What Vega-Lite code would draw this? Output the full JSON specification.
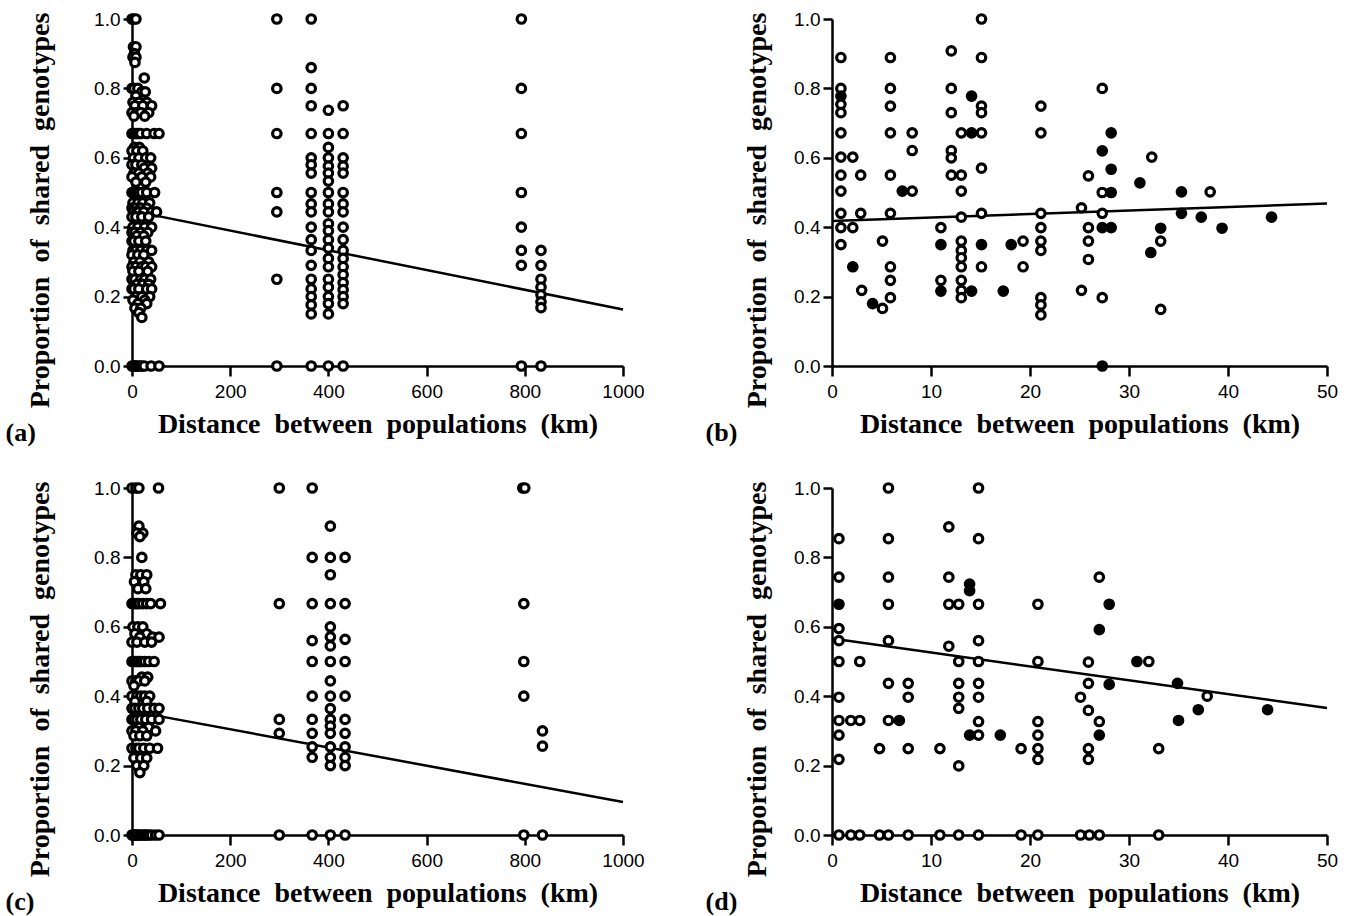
{
"$schema":"https://vega.github.io/schema/vega-lite/v6.json",
"background":"white",
"padding":{"left":5,"top":8,"right":5,"bottom":2},
"config":{"view":{"stroke":null},
"axis":{"grid":false,"domainColor":"black","domainWidth":2.5,"tickColor":"black","tickWidth":2.5,"labelFont":"Liberation Sans","labelFontSize":19,"labelColor":"black","titleFont":"Liberation Serif","titleFontSize":28,"titleFontWeight":"bold","titleColor":"black","titleLimit":800,"labelOverlap":false},
"axisX":{"tickSize":10,"labelPadding":6,"titlePadding":9,"labelFlush":false},
"axisY":{"tickSize":9,"labelPadding":3},
"title":{"font":"Liberation Serif","fontSize":26,"fontWeight":"bold","color":"black"}},
"datasets":{
"a":[{"km":0,"p":1},{"km":3,"p":1},{"km":8,"p":1},{"km":3,"p":0.92},{"km":8,"p":0.92},{"km":5,"p":0.9},{"km":2,"p":0.89},{"km":8,"p":0.89},{"km":6,"p":0.875},{"km":25,"p":0.83},{"km":0,"p":0.8},{"km":4,"p":0.8},{"km":12,"p":0.8},{"km":20,"p":0.79},{"km":27,"p":0.79},{"km":8,"p":0.778},{"km":2,"p":0.76},{"km":14,"p":0.76},{"km":30,"p":0.76},{"km":6,"p":0.75},{"km":22,"p":0.75},{"km":40,"p":0.75},{"km":0,"p":0.73},{"km":10,"p":0.73},{"km":18,"p":0.73},{"km":34,"p":0.73},{"km":4,"p":0.72},{"km":26,"p":0.72},{"km":0,"p":0.67},{"km":3,"p":0.67},{"km":6,"p":0.67},{"km":10,"p":0.67},{"km":14,"p":0.67},{"km":18,"p":0.67},{"km":30,"p":0.67},{"km":45,"p":0.67},{"km":55,"p":0.67},{"km":5,"p":0.63},{"km":15,"p":0.63},{"km":0,"p":0.62},{"km":10,"p":0.62},{"km":22,"p":0.62},{"km":3,"p":0.6},{"km":14,"p":0.6},{"km":28,"p":0.6},{"km":38,"p":0.6},{"km":0,"p":0.58},{"km":8,"p":0.58},{"km":20,"p":0.58},{"km":25,"p":0.57},{"km":40,"p":0.57},{"km":4,"p":0.556},{"km":14,"p":0.556},{"km":32,"p":0.556},{"km":0,"p":0.545},{"km":20,"p":0.545},{"km":38,"p":0.545},{"km":8,"p":0.53},{"km":28,"p":0.53},{"km":0,"p":0.5},{"km":3,"p":0.5},{"km":6,"p":0.5},{"km":10,"p":0.5},{"km":14,"p":0.5},{"km":20,"p":0.5},{"km":30,"p":0.5},{"km":46,"p":0.5},{"km":2,"p":0.47},{"km":12,"p":0.47},{"km":22,"p":0.47},{"km":36,"p":0.47},{"km":0,"p":0.455},{"km":6,"p":0.455},{"km":18,"p":0.455},{"km":30,"p":0.455},{"km":3,"p":0.444},{"km":10,"p":0.444},{"km":14,"p":0.444},{"km":24,"p":0.444},{"km":40,"p":0.444},{"km":50,"p":0.444},{"km":0,"p":0.43},{"km":8,"p":0.43},{"km":20,"p":0.43},{"km":34,"p":0.43},{"km":2,"p":0.4},{"km":12,"p":0.4},{"km":26,"p":0.4},{"km":40,"p":0.4},{"km":0,"p":0.385},{"km":6,"p":0.385},{"km":18,"p":0.385},{"km":32,"p":0.385},{"km":10,"p":0.375},{"km":24,"p":0.375},{"km":0,"p":0.36},{"km":4,"p":0.36},{"km":14,"p":0.36},{"km":28,"p":0.36},{"km":2,"p":0.333},{"km":8,"p":0.333},{"km":18,"p":0.333},{"km":30,"p":0.333},{"km":40,"p":0.333},{"km":0,"p":0.32},{"km":12,"p":0.32},{"km":24,"p":0.32},{"km":4,"p":0.3},{"km":16,"p":0.3},{"km":34,"p":0.3},{"km":0,"p":0.286},{"km":8,"p":0.286},{"km":20,"p":0.286},{"km":28,"p":0.286},{"km":40,"p":0.286},{"km":2,"p":0.273},{"km":14,"p":0.273},{"km":32,"p":0.273},{"km":0,"p":0.25},{"km":6,"p":0.25},{"km":18,"p":0.25},{"km":26,"p":0.25},{"km":38,"p":0.25},{"km":10,"p":0.235},{"km":22,"p":0.235},{"km":34,"p":0.235},{"km":0,"p":0.222},{"km":4,"p":0.222},{"km":14,"p":0.222},{"km":30,"p":0.222},{"km":40,"p":0.222},{"km":8,"p":0.2},{"km":20,"p":0.2},{"km":36,"p":0.2},{"km":2,"p":0.19},{"km":26,"p":0.19},{"km":12,"p":0.18},{"km":30,"p":0.18},{"km":6,"p":0.167},{"km":18,"p":0.167},{"km":14,"p":0.154},{"km":20,"p":0.14},{"km":0,"p":0},{"km":2,"p":0},{"km":4,"p":0},{"km":6,"p":0},{"km":8,"p":0},{"km":12,"p":0},{"km":16,"p":0},{"km":20,"p":0},{"km":25,"p":0},{"km":39,"p":0},{"km":55,"p":0},
{"km":295,"p":1},{"km":295,"p":0.8},{"km":295,"p":0.67},{"km":295,"p":0.5},{"km":295,"p":0.444},{"km":295,"p":0.25},{"km":295,"p":0},
{"km":365,"p":1},{"km":365,"p":0.86},{"km":365,"p":0.8},{"km":365,"p":0.75},{"km":365,"p":0.67},{"km":365,"p":0.6},{"km":365,"p":0.58},{"km":365,"p":0.556},{"km":365,"p":0.5},{"km":365,"p":0.467},{"km":365,"p":0.444},{"km":365,"p":0.4},{"km":365,"p":0.364},{"km":365,"p":0.333},{"km":365,"p":0.29},{"km":365,"p":0.25},{"km":365,"p":0.222},{"km":365,"p":0.2},{"km":365,"p":0.176},{"km":365,"p":0.15},{"km":365,"p":0},
{"km":400,"p":0.737},{"km":400,"p":0.67},{"km":400,"p":0.63},{"km":400,"p":0.6},{"km":400,"p":0.576},{"km":400,"p":0.556},{"km":400,"p":0.533},{"km":400,"p":0.5},{"km":400,"p":0.467},{"km":400,"p":0.444},{"km":400,"p":0.41},{"km":400,"p":0.39},{"km":400,"p":0.364},{"km":400,"p":0.34},{"km":400,"p":0.31},{"km":400,"p":0.286},{"km":400,"p":0.25},{"km":400,"p":0.227},{"km":400,"p":0.2},{"km":400,"p":0.18},{"km":400,"p":0.15},{"km":400,"p":0},
{"km":430,"p":0.75},{"km":430,"p":0.67},{"km":430,"p":0.6},{"km":430,"p":0.576},{"km":430,"p":0.556},{"km":430,"p":0.5},{"km":430,"p":0.467},{"km":430,"p":0.444},{"km":430,"p":0.4},{"km":430,"p":0.364},{"km":430,"p":0.333},{"km":430,"p":0.31},{"km":430,"p":0.286},{"km":430,"p":0.263},{"km":430,"p":0.24},{"km":430,"p":0.22},{"km":430,"p":0.2},{"km":430,"p":0.18},{"km":430,"p":0},
{"km":793,"p":1},{"km":793,"p":0.8},{"km":793,"p":0.67},{"km":793,"p":0.5},{"km":793,"p":0.4},{"km":793,"p":0.333},{"km":793,"p":0.29},{"km":793,"p":0},
{"km":833,"p":0.333},{"km":833,"p":0.29},{"km":833,"p":0.25},{"km":833,"p":0.227},{"km":833,"p":0.205},{"km":833,"p":0.185},{"km":833,"p":0.168},{"km":833,"p":0}],
"c":[{"km":0,"p":1},{"km":8,"p":1},{"km":14,"p":1},{"km":54,"p":1},{"km":14,"p":0.89},{"km":10,"p":0.87},{"km":22,"p":0.87},{"km":16,"p":0.86},{"km":20,"p":0.8},{"km":8,"p":0.75},{"km":18,"p":0.75},{"km":30,"p":0.75},{"km":5,"p":0.73},{"km":24,"p":0.73},{"km":12,"p":0.71},{"km":28,"p":0.71},{"km":0,"p":0.667},{"km":5,"p":0.667},{"km":10,"p":0.667},{"km":15,"p":0.667},{"km":22,"p":0.667},{"km":30,"p":0.667},{"km":38,"p":0.667},{"km":58,"p":0.667},{"km":2,"p":0.6},{"km":12,"p":0.6},{"km":22,"p":0.6},{"km":6,"p":0.58},{"km":30,"p":0.58},{"km":16,"p":0.57},{"km":42,"p":0.57},{"km":55,"p":0.57},{"km":0,"p":0.556},{"km":10,"p":0.556},{"km":26,"p":0.556},{"km":40,"p":0.556},{"km":0,"p":0.5},{"km":4,"p":0.5},{"km":8,"p":0.5},{"km":12,"p":0.5},{"km":16,"p":0.5},{"km":20,"p":0.5},{"km":26,"p":0.5},{"km":34,"p":0.5},{"km":45,"p":0.5},{"km":20,"p":0.455},{"km":32,"p":0.455},{"km":0,"p":0.444},{"km":8,"p":0.444},{"km":14,"p":0.444},{"km":26,"p":0.444},{"km":4,"p":0.43},{"km":0,"p":0.4},{"km":10,"p":0.4},{"km":18,"p":0.4},{"km":26,"p":0.4},{"km":36,"p":0.4},{"km":6,"p":0.385},{"km":30,"p":0.385},{"km":0,"p":0.365},{"km":6,"p":0.365},{"km":14,"p":0.365},{"km":22,"p":0.365},{"km":32,"p":0.365},{"km":45,"p":0.365},{"km":55,"p":0.365},{"km":0,"p":0.333},{"km":4,"p":0.333},{"km":10,"p":0.333},{"km":18,"p":0.333},{"km":28,"p":0.333},{"km":40,"p":0.333},{"km":55,"p":0.333},{"km":14,"p":0.31},{"km":34,"p":0.31},{"km":0,"p":0.3},{"km":8,"p":0.3},{"km":22,"p":0.3},{"km":48,"p":0.3},{"km":4,"p":0.286},{"km":16,"p":0.286},{"km":30,"p":0.286},{"km":0,"p":0.25},{"km":8,"p":0.25},{"km":14,"p":0.25},{"km":24,"p":0.25},{"km":36,"p":0.25},{"km":52,"p":0.25},{"km":4,"p":0.222},{"km":18,"p":0.222},{"km":30,"p":0.222},{"km":10,"p":0.2},{"km":24,"p":0.2},{"km":16,"p":0.18},{"km":0,"p":0},{"km":2,"p":0},{"km":4,"p":0},{"km":6,"p":0},{"km":8,"p":0},{"km":10,"p":0},{"km":14,"p":0},{"km":18,"p":0},{"km":22,"p":0},{"km":26,"p":0},{"km":30,"p":0},{"km":34,"p":0},{"km":40,"p":0},{"km":48,"p":0},{"km":55,"p":0},
{"km":300,"p":1},{"km":300,"p":0.667},{"km":300,"p":0.333},{"km":300,"p":0.293},{"km":300,"p":0},
{"km":367,"p":1},{"km":367,"p":0.8},{"km":367,"p":0.667},{"km":367,"p":0.56},{"km":367,"p":0.5},{"km":367,"p":0.4},{"km":367,"p":0.333},{"km":367,"p":0.293},{"km":367,"p":0.254},{"km":367,"p":0.224},{"km":367,"p":0},
{"km":404,"p":0.89},{"km":404,"p":0.8},{"km":404,"p":0.75},{"km":404,"p":0.667},{"km":404,"p":0.6},{"km":404,"p":0.571},{"km":404,"p":0.545},{"km":404,"p":0.5},{"km":404,"p":0.444},{"km":404,"p":0.4},{"km":404,"p":0.364},{"km":404,"p":0.333},{"km":404,"p":0.314},{"km":404,"p":0.293},{"km":404,"p":0.254},{"km":404,"p":0.224},{"km":404,"p":0.2},{"km":404,"p":0},
{"km":434,"p":0.8},{"km":434,"p":0.667},{"km":434,"p":0.564},{"km":434,"p":0.5},{"km":434,"p":0.4},{"km":434,"p":0.333},{"km":434,"p":0.293},{"km":434,"p":0.254},{"km":434,"p":0.224},{"km":434,"p":0.2},{"km":434,"p":0},
{"km":796,"p":1},{"km":800,"p":1},{"km":798,"p":0.667},{"km":798,"p":0.5},{"km":798,"p":0.4},{"km":798,"p":0},
{"km":836,"p":0.3},{"km":836,"p":0.256},{"km":836,"p":0}],
"b":[{"km":0.9,"p":0.889,"k":"o"},{"km":0.9,"p":0.8,"k":"o"},{"km":0.9,"p":0.778,"k":"f"},{"km":0.9,"p":0.754,"k":"o"},{"km":0.9,"p":0.73,"k":"o"},{"km":0.9,"p":0.672,"k":"o"},{"km":0.9,"p":0.602,"k":"o"},{"km":2.1,"p":0.602,"k":"o"},{"km":0.9,"p":0.55,"k":"o"},{"km":2.9,"p":0.55,"k":"o"},{"km":0.9,"p":0.504,"k":"o"},{"km":0.9,"p":0.44,"k":"o"},{"km":2.9,"p":0.44,"k":"o"},{"km":0.9,"p":0.399,"k":"o"},{"km":2.1,"p":0.399,"k":"o"},{"km":0.9,"p":0.35,"k":"o"},{"km":2.1,"p":0.286,"k":"f"},{"km":3.0,"p":0.218,"k":"o"},{"km":4.1,"p":0.18,"k":"f"},{"km":5.1,"p":0.166,"k":"o"},{"km":5.1,"p":0.36,"k":"o"},{"km":5.9,"p":0.889,"k":"o"},{"km":5.9,"p":0.8,"k":"o"},{"km":5.9,"p":0.749,"k":"o"},{"km":5.9,"p":0.672,"k":"o"},{"km":5.9,"p":0.55,"k":"o"},{"km":5.9,"p":0.44,"k":"o"},{"km":5.9,"p":0.286,"k":"o"},{"km":5.9,"p":0.247,"k":"o"},{"km":5.9,"p":0.197,"k":"o"},{"km":7.1,"p":0.504,"k":"f"},{"km":8.1,"p":0.504,"k":"o"},{"km":8.1,"p":0.672,"k":"o"},{"km":8.1,"p":0.621,"k":"o"},{"km":11.0,"p":0.399,"k":"o"},{"km":11.0,"p":0.35,"k":"f"},{"km":11.0,"p":0.247,"k":"o"},{"km":11.0,"p":0.216,"k":"f"},{"km":12.05,"p":0.908,"k":"o"},{"km":12.05,"p":0.8,"k":"o"},{"km":12.05,"p":0.73,"k":"o"},{"km":12.05,"p":0.621,"k":"o"},{"km":12.05,"p":0.6,"k":"o"},{"km":12.05,"p":0.55,"k":"o"},{"km":13.06,"p":0.55,"k":"o"},{"km":13.06,"p":0.672,"k":"o"},{"km":13.06,"p":0.504,"k":"o"},{"km":13.06,"p":0.429,"k":"o"},{"km":13.06,"p":0.36,"k":"o"},{"km":13.06,"p":0.333,"k":"o"},{"km":13.06,"p":0.312,"k":"o"},{"km":13.06,"p":0.286,"k":"o"},{"km":13.06,"p":0.247,"k":"o"},{"km":13.06,"p":0.218,"k":"o"},{"km":13.06,"p":0.197,"k":"o"},{"km":14.1,"p":0.778,"k":"f"},{"km":14.1,"p":0.672,"k":"f"},{"km":14.1,"p":0.216,"k":"f"},{"km":15.1,"p":1.0,"k":"o"},{"km":15.1,"p":0.889,"k":"o"},{"km":15.1,"p":0.749,"k":"o"},{"km":15.1,"p":0.73,"k":"o"},{"km":15.1,"p":0.672,"k":"o"},{"km":15.1,"p":0.57,"k":"o"},{"km":15.1,"p":0.44,"k":"o"},{"km":15.1,"p":0.35,"k":"f"},{"km":15.1,"p":0.286,"k":"o"},{"km":17.3,"p":0.216,"k":"f"},{"km":18.1,"p":0.35,"k":"f"},{"km":19.3,"p":0.36,"k":"o"},{"km":19.3,"p":0.286,"k":"o"},{"km":21.1,"p":0.749,"k":"o"},{"km":21.1,"p":0.672,"k":"o"},{"km":21.1,"p":0.44,"k":"o"},{"km":21.1,"p":0.399,"k":"o"},{"km":21.1,"p":0.36,"k":"o"},{"km":21.1,"p":0.333,"k":"o"},{"km":21.1,"p":0.197,"k":"o"},{"km":21.1,"p":0.176,"k":"o"},{"km":21.1,"p":0.147,"k":"o"},{"km":25.2,"p":0.456,"k":"o"},{"km":25.2,"p":0.218,"k":"o"},{"km":25.9,"p":0.548,"k":"o"},{"km":25.9,"p":0.399,"k":"o"},{"km":25.9,"p":0.36,"k":"o"},{"km":25.9,"p":0.307,"k":"o"},{"km":27.3,"p":0.8,"k":"o"},{"km":28.2,"p":0.672,"k":"f"},{"km":27.3,"p":0.62,"k":"f"},{"km":28.2,"p":0.567,"k":"f"},{"km":27.3,"p":0.5,"k":"o"},{"km":28.2,"p":0.5,"k":"f"},{"km":27.3,"p":0.44,"k":"o"},{"km":27.3,"p":0.399,"k":"f"},{"km":28.2,"p":0.399,"k":"f"},{"km":27.3,"p":0.197,"k":"o"},{"km":27.3,"p":0.0,"k":"f"},{"km":31.1,"p":0.528,"k":"f"},{"km":32.3,"p":0.602,"k":"o"},{"km":33.2,"p":0.397,"k":"f"},{"km":32.2,"p":0.327,"k":"f"},{"km":33.2,"p":0.36,"k":"o"},{"km":33.2,"p":0.163,"k":"o"},{"km":35.3,"p":0.502,"k":"f"},{"km":35.3,"p":0.44,"k":"f"},{"km":37.3,"p":0.429,"k":"f"},{"km":38.2,"p":0.502,"k":"o"},{"km":39.4,"p":0.397,"k":"f"},{"km":44.4,"p":0.429,"k":"f"}],
"d":[{"km":0.7,"p":0.854,"k":"o"},{"km":0.7,"p":0.743,"k":"o"},{"km":0.7,"p":0.665,"k":"f"},{"km":0.7,"p":0.595,"k":"o"},{"km":0.7,"p":0.56,"k":"o"},{"km":0.7,"p":0.5,"k":"o"},{"km":0.7,"p":0.397,"k":"o"},{"km":0.7,"p":0.33,"k":"o"},{"km":0.7,"p":0.288,"k":"o"},{"km":0.7,"p":0.218,"k":"o"},{"km":0.7,"p":0,"k":"o"},{"km":1.9,"p":0.33,"k":"o"},{"km":1.9,"p":0,"k":"o"},{"km":2.8,"p":0.5,"k":"o"},{"km":2.8,"p":0.33,"k":"o"},{"km":2.8,"p":0,"k":"o"},{"km":4.8,"p":0.249,"k":"o"},{"km":4.8,"p":0,"k":"o"},{"km":5.7,"p":1.0,"k":"o"},{"km":5.7,"p":0.854,"k":"o"},{"km":5.7,"p":0.743,"k":"o"},{"km":5.7,"p":0.665,"k":"o"},{"km":5.7,"p":0.56,"k":"o"},{"km":5.7,"p":0.437,"k":"o"},{"km":5.7,"p":0.33,"k":"o"},{"km":5.7,"p":0,"k":"o"},{"km":6.8,"p":0.33,"k":"f"},{"km":7.7,"p":0.437,"k":"o"},{"km":7.7,"p":0.397,"k":"o"},{"km":7.7,"p":0.249,"k":"o"},{"km":7.7,"p":0,"k":"o"},{"km":10.9,"p":0.249,"k":"o"},{"km":10.9,"p":0,"k":"o"},{"km":11.8,"p":0.888,"k":"o"},{"km":11.8,"p":0.743,"k":"o"},{"km":11.8,"p":0.665,"k":"o"},{"km":11.8,"p":0.544,"k":"o"},{"km":12.8,"p":0.665,"k":"o"},{"km":12.8,"p":0.5,"k":"o"},{"km":12.8,"p":0.437,"k":"o"},{"km":12.8,"p":0.397,"k":"o"},{"km":12.8,"p":0.365,"k":"o"},{"km":12.8,"p":0.199,"k":"o"},{"km":12.8,"p":0,"k":"o"},{"km":13.9,"p":0.723,"k":"f"},{"km":13.9,"p":0.704,"k":"f"},{"km":13.9,"p":0.288,"k":"f"},{"km":14.8,"p":1.0,"k":"o"},{"km":14.8,"p":0.854,"k":"o"},{"km":14.8,"p":0.665,"k":"o"},{"km":14.8,"p":0.56,"k":"o"},{"km":14.8,"p":0.5,"k":"o"},{"km":14.8,"p":0.437,"k":"o"},{"km":14.8,"p":0.397,"k":"o"},{"km":14.8,"p":0.327,"k":"o"},{"km":14.8,"p":0.288,"k":"o"},{"km":14.8,"p":0,"k":"o"},{"km":17,"p":0.288,"k":"f"},{"km":19.1,"p":0.249,"k":"o"},{"km":19.1,"p":0,"k":"o"},{"km":20.8,"p":0.665,"k":"o"},{"km":20.8,"p":0.5,"k":"o"},{"km":20.8,"p":0.327,"k":"o"},{"km":20.8,"p":0.288,"k":"o"},{"km":20.8,"p":0.249,"k":"o"},{"km":20.8,"p":0.218,"k":"o"},{"km":20.8,"p":0,"k":"o"},{"km":25.1,"p":0.397,"k":"o"},{"km":25.1,"p":0,"k":"o"},{"km":25.9,"p":0.498,"k":"o"},{"km":25.9,"p":0.437,"k":"o"},{"km":25.9,"p":0.359,"k":"o"},{"km":25.9,"p":0.249,"k":"o"},{"km":25.9,"p":0.218,"k":"o"},{"km":26,"p":0,"k":"o"},{"km":27,"p":0.743,"k":"o"},{"km":28,"p":0.665,"k":"f"},{"km":27,"p":0.592,"k":"f"},{"km":28,"p":0.434,"k":"f"},{"km":27,"p":0.327,"k":"o"},{"km":27,"p":0.288,"k":"f"},{"km":27,"p":0,"k":"o"},{"km":30.8,"p":0.5,"k":"f"},{"km":32,"p":0.5,"k":"o"},{"km":33,"p":0.249,"k":"o"},{"km":33,"p":0,"k":"o"},{"km":34.9,"p":0.437,"k":"f"},{"km":35,"p":0.33,"k":"f"},{"km":37.9,"p":0.4,"k":"o"},{"km":37,"p":0.361,"k":"f"},{"km":44,"p":0.361,"k":"f"}]
},
"spacing":60,
"hconcat":[
{"spacing":31,"vconcat":[
{"width":491,"height":347,
"title":{"text":"(a)","orient":"bottom","anchor":"start","frame":"bounds","offset":-18,"dx":-21},
"encoding":{"x":{"field":"km","type":"quantitative","scale":{"domain":[0,1000],"nice":false},"axis":{"values":[0,200,400,600,800,1000],"format":"d","title":"Distance\u00a0\u00a0between\u00a0\u00a0populations\u00a0\u00a0(km)"}},
"y":{"field":"p","type":"quantitative","scale":{"domain":[0,1],"nice":false},"axis":{"values":[0,0.2,0.4,0.6,0.8,1],"format":".1f","title":"Proportion\u00a0\u00a0of\u00a0\u00a0shared\u00a0\u00a0genotypes","titlePadding":39,"titleY":191}}},
"layer":[
{"data":{"values":[{"km":0,"p":0.447},{"km":1000,"p":0.163}]},"mark":{"type":"line","color":"black","strokeWidth":2.5},"encoding":{}},
{"data":{"name":"a"},"mark":{"type":"point","shape":"circle","filled":true,"fill":"white","stroke":"black","strokeWidth":3.2,"size":72,"opacity":1},"encoding":{}}
]},
{"width":491,"height":347,
"title":{"text":"(c)","orient":"bottom","anchor":"start","frame":"bounds","offset":-18,"dx":-21},
"encoding":{"x":{"field":"km","type":"quantitative","scale":{"domain":[0,1000],"nice":false},"axis":{"values":[0,200,400,600,800,1000],"format":"d","title":"Distance\u00a0\u00a0between\u00a0\u00a0populations\u00a0\u00a0(km)"}},
"y":{"field":"p","type":"quantitative","scale":{"domain":[0,1],"nice":false},"axis":{"values":[0,0.2,0.4,0.6,0.8,1],"format":".1f","title":"Proportion\u00a0\u00a0of\u00a0\u00a0shared\u00a0\u00a0genotypes","titlePadding":39,"titleY":191}}},
"layer":[
{"data":{"values":[{"km":0,"p":0.357},{"km":1000,"p":0.095}]},"mark":{"type":"line","color":"black","strokeWidth":2.5},"encoding":{}},
{"data":{"name":"c"},"mark":{"type":"point","shape":"circle","filled":true,"fill":"white","stroke":"black","strokeWidth":3.2,"size":72,"opacity":1},"encoding":{}}
]}
]},
{"spacing":31,"vconcat":[
{"width":495,"height":347,
"title":{"text":"(b)","orient":"bottom","anchor":"start","frame":"bounds","offset":-18,"dx":-38},
"encoding":{"x":{"field":"km","type":"quantitative","scale":{"domain":[0,50],"nice":false},"axis":{"values":[0,10,20,30,40,50],"title":"Distance\u00a0\u00a0between\u00a0\u00a0populations\u00a0\u00a0(km)"}},
"y":{"field":"p","type":"quantitative","scale":{"domain":[0,1],"nice":false},"axis":{"values":[0,0.2,0.4,0.6,0.8,1],"format":".1f","title":"Proportion\u00a0\u00a0of\u00a0\u00a0shared\u00a0\u00a0genotypes","titlePadding":22,"titleY":191}}},
"layer":[
{"data":{"values":[{"km":0,"p":0.418},{"km":50,"p":0.468}]},"mark":{"type":"line","color":"black","strokeWidth":2.5},"encoding":{}},
{"data":{"name":"b"},"mark":{"type":"point","shape":"circle","filled":true,"stroke":"black","strokeWidth":3.2,"size":72,"opacity":1},"encoding":{"fill":{"field":"k","type":"nominal","scale":{"domain":["o","f"],"range":["white","black"]},"legend":null}}}
]},
{"width":495,"height":347,
"title":{"text":"(d)","orient":"bottom","anchor":"start","frame":"bounds","offset":-18,"dx":-38},
"encoding":{"x":{"field":"km","type":"quantitative","scale":{"domain":[0,50],"nice":false},"axis":{"values":[0,10,20,30,40,50],"title":"Distance\u00a0\u00a0between\u00a0\u00a0populations\u00a0\u00a0(km)"}},
"y":{"field":"p","type":"quantitative","scale":{"domain":[0,1],"nice":false},"axis":{"values":[0,0.2,0.4,0.6,0.8,1],"format":".1f","title":"Proportion\u00a0\u00a0of\u00a0\u00a0shared\u00a0\u00a0genotypes","titlePadding":22,"titleY":191}}},
"layer":[
{"data":{"values":[{"km":0,"p":0.566},{"km":50,"p":0.366}]},"mark":{"type":"line","color":"black","strokeWidth":2.5},"encoding":{}},
{"data":{"name":"d"},"mark":{"type":"point","shape":"circle","filled":true,"stroke":"black","strokeWidth":3.2,"size":72,"opacity":1},"encoding":{"fill":{"field":"k","type":"nominal","scale":{"domain":["o","f"],"range":["white","black"]},"legend":null}}}
]}
]}
]
}
